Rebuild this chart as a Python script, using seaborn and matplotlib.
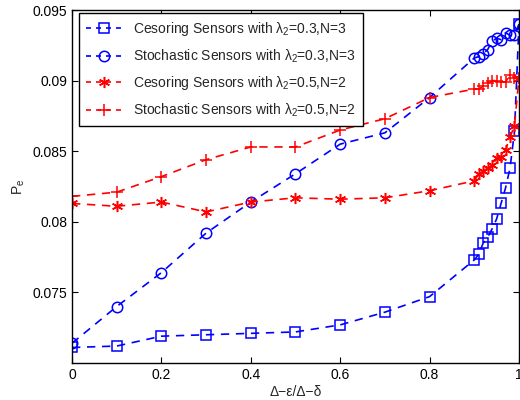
import numpy as np
import pandas as pd
import seaborn as sns
import matplotlib
matplotlib.use("Agg")
import matplotlib.pyplot as plt

# values
x_fine = [0, 0.1, 0.2, 0.3, 0.4, 0.5, 0.6, 0.7, 0.8,
          0.9, 0.91, 0.92, 0.93, 0.94, 0.95, 0.96, 0.97, 0.98, 0.99, 1.0]

cens_03 = [0.0711, 0.0712, 0.0719, 0.0720, 0.0721, 0.0722, 0.0727, 0.0736, 0.0747,
           0.0773, 0.0777, 0.0785, 0.0789, 0.0795, 0.0802, 0.0813, 0.0824, 0.0838, 0.0864, 0.0940]
stoch_03 = [0.0714, 0.0740, 0.0764, 0.0792, 0.0814, 0.0834, 0.0855, 0.0863, 0.0888,
            0.0916, 0.0917, 0.0919, 0.0922, 0.0928, 0.0930, 0.0929, 0.0934, 0.0932, 0.0932, 0.0940]
cens_05 = [0.0813, 0.0811, 0.0814, 0.0807, 0.0814, 0.0817, 0.0816, 0.0817, 0.0822,
           0.0829, 0.0834, 0.0836, 0.0838, 0.0840, 0.0845, 0.0846, 0.0851, 0.0860, 0.0868, 0.0902]
stoch_05 = [0.0818, 0.0821, 0.0832, 0.0844, 0.0853, 0.0853, 0.0865, 0.0873, 0.0888,
            0.0894, 0.0894, 0.0896, 0.0898, 0.0900, 0.0900, 0.0899, 0.0899, 0.0904, 0.0902, 0.0902]

labels = [r"Cesoring Sensors with $\lambda_2$=0.3,N=3",
          r"Stochastic Sensors with $\lambda_2$=0.3,N=3",
          r"Cesoring Sensors with $\lambda_2$=0.5,N=2",
          r"Stochastic Sensors with $\lambda_2$=0.5,N=2"]

x_ticks = [0, 0.2, 0.4, 0.6, 0.8, 1]
x_ticklabels = ["0", "0.2", "0.4", "0.6", "0.8", "1"]
y_ticks = [0.075, 0.08, 0.085, 0.09, 0.095]
y_ticklabels = ["0.075", "0.08", "0.085", "0.09", "0.095"]

sns.set_style("ticks")
plt.rcParams['font.family'] = ['Liberation Sans', 'DejaVu Sans']
plt.rcParams['mathtext.fontset'] = 'custom'
plt.rcParams['mathtext.rm'] = 'Liberation Sans'
plt.rcParams['mathtext.it'] = 'Liberation Sans'
plt.rcParams['xtick.direction'] = 'in'
plt.rcParams['ytick.direction'] = 'in'

fig = plt.figure(figsize=(5.2, 4.0), dpi=100)
ax = fig.add_axes([0.1385, 0.0925, 0.8595, 0.8825])

styles = [
    dict(color="#0000ff", marker="s", markersize=6.5),
    dict(color="#0000ff", marker="o", markersize=7.5),
    dict(color="#ff0000", marker=(6, 2, 0), markersize=8),
    dict(color="#ff0000", marker="+", markersize=9),
]

for ys, lab, st in zip([cens_03, stoch_03, cens_05, stoch_05], labels, styles):
    df = pd.DataFrame({"x": x_fine, "y": ys})
    sns.lineplot(data=df, x="x", y="y", ax=ax, estimator=None, label=lab,
                 color=st["color"], marker=st["marker"], markersize=st["markersize"],
                 markerfacecolor="none", markeredgecolor=st["color"], markeredgewidth=1.1,
                 linestyle="--", linewidth=1.2, dashes=False)
    ax.lines[-1].set_linestyle((0, (5, 4)))

ax.set_xlim(0, 1)
ax.set_ylim(0.07, 0.095)
ax.set_xticks(x_ticks)
ax.set_xticklabels(x_ticklabels)
ax.set_yticks(y_ticks)
ax.set_yticklabels(y_ticklabels)
ax.tick_params(axis="both", labelsize=10, top=True, right=True, length=4, width=0.8, colors="black")
for s in ax.spines.values():
    s.set_visible(True)
    s.set_linewidth(1.0)
    s.set_color("black")

ax.set_xlabel("\u0394\u2212\u03b5/\u0394\u2212\u03b4", fontsize=10, labelpad=2)
ax.set_ylabel(r"P$_{\rm e}$", fontsize=10, labelpad=4)

leg = ax.legend(loc="upper left", bbox_to_anchor=(0.0157, 0.9915), borderaxespad=0,
                fontsize=10, frameon=True, fancybox=False, framealpha=1,
                edgecolor="black", handlelength=2.6, labelspacing=0.68,
                borderpad=0.5)
leg.get_frame().set_linewidth(1.0)
for h in leg.get_lines():
    h.set_linestyle((0, (3, 3)))

fig.savefig("out.png", dpi=100)
